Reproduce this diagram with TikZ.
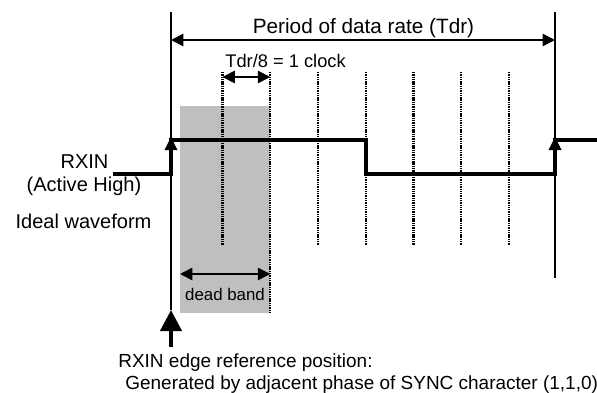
\documentclass[tikz,border=0pt]{standalone}
\usepackage{fontspec}
\setmainfont{Liberation Sans}
\usetikzlibrary{arrows.meta}

\begin{document}
\begin{tikzpicture}[
        wave/.style={line width=2pt},
        tick/.style={line width=1.4pt, dash pattern=on 0.8pt off 0.5pt},
        span/.style={line width=1pt, {Triangle[length=7pt,width=7pt]}-{Triangle[length=7pt,width=7pt]}},
        txt/.style={inner sep=0pt, font=\fontsize{11.4}{13}\selectfont}
    ]
        \useasboundingbox (0, 0) rectangle (11.94, 7.84);
        % dead band area
        \fill[gray!50] (3.6, 1.58) rectangle (5.405, 5.72);
        % clock ticks
        \foreach \x in {4.45, 6.36, 7.315, 8.27, 9.225, 10.18}
            \draw[tick] (\x, 6.4) -- (\x, 2.94);
        \draw[tick] (5.405, 6.4) -- (5.405, 1.58);
        % period limits
        \coordinate (top1) at (3.42, 7.6);
        \coordinate (top2) at (11.1, 7.6);
        \draw[line width=1.1pt] (top1) -- (3.42, 1.64);
        \draw[line width=1.1pt] (top2) -- (11.1, 2.28);
        \draw[span] (3.42, 7.04) -- (11.1, 7.04);
        \node[txt, font=\fontsize{11.8}{13}\selectfont, anchor=base] (period) at (7.27, 7.18) {Period of data rate (Tdr)};
        \draw[span] (4.45, 6.3) -- (5.405, 6.3);
        \node[txt, font=\fontsize{10.4}{12}\selectfont, anchor=base west] (clock) at (4.5, 6.5) {Tdr/8 = 1 clock};
        % waveform
        \draw[wave] (2.26, 4.36) -- (3.42, 4.36) -- (3.42, 5.04) -- (7.315, 5.04)
            -- (7.315, 4.36) -- (11.1, 4.36) -- (11.1, 5.04) -- (11.94, 5.04);
        \foreach \x in {3.42, 11.1}
            \fill (\x, 5.1) -- (\x - 0.13, 4.84) -- (\x + 0.13, 4.84) -- cycle;
        \node[txt, anchor=base] (rxin) at (1.69, 4.48) {RXIN};
        \node[txt, anchor=base] (active) at (1.68, 4.02) {(Active High)};
        \node[txt, anchor=base] (ideal) at (1.67, 3.28) {Ideal waveform};
        % dead band
        \draw[span] (3.6, 2.36) -- (5.405, 2.36);
        \node[txt, font=\fontsize{9.6}{11}\selectfont, anchor=base] (dead) at (4.5, 1.84) {dead band};
        % edge reference
        \coordinate (foot) at (3.42, 0.9);
        \draw[line width=2.3pt, -{Triangle[length=12pt,width=12pt]}] (foot) -- (3.42, 1.64);
        \node[txt, font=\fontsize{10.8}{12}\selectfont, anchor=base west] (edge) at (2.36, 0.5) {RXIN edge reference position:};
        \node[txt, font=\fontsize{10.8}{12}\selectfont, anchor=base west] (sync) at (2.5, 0.06) {Generated by adjacent phase of SYNC character (1,1,0)};
    \end{tikzpicture}
\end{document}
